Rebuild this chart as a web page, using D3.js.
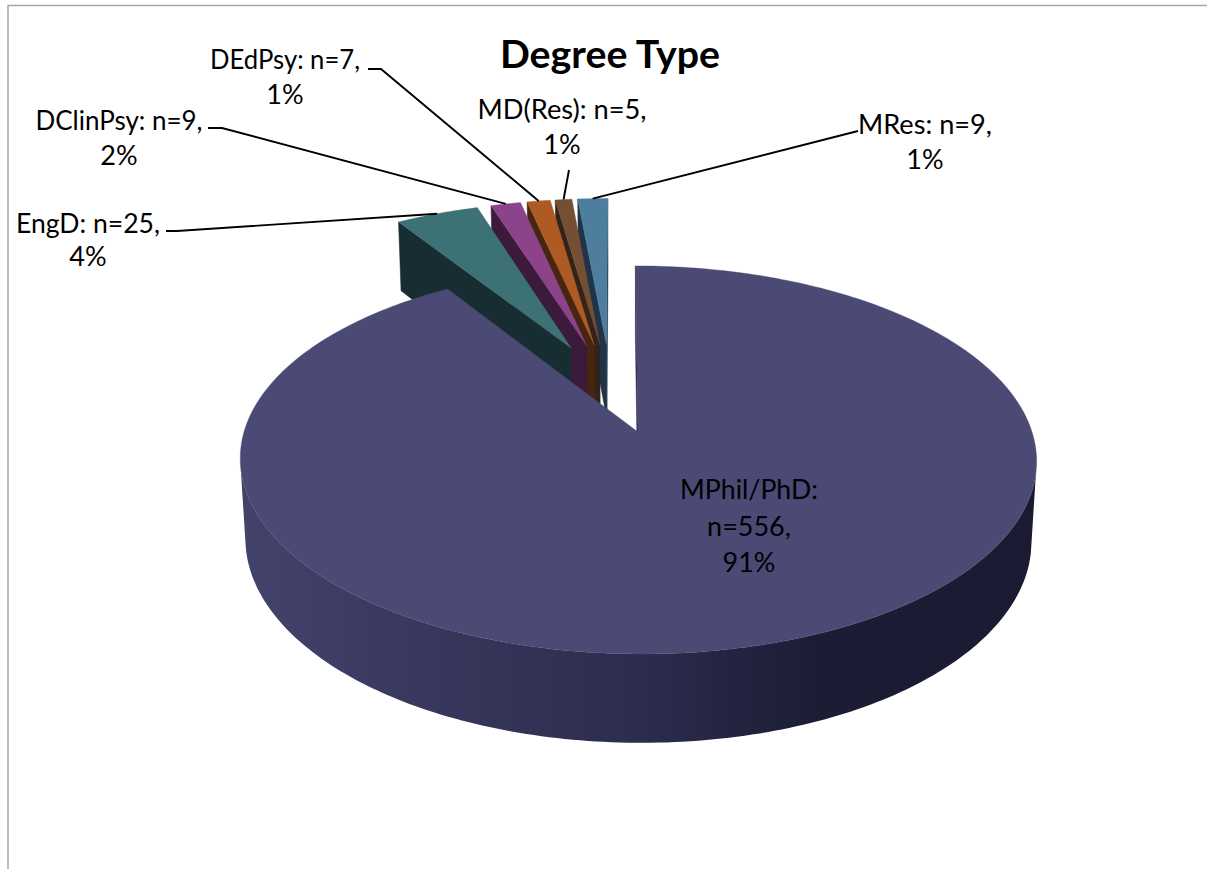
<!DOCTYPE html>
<html>
<head>
<meta charset="utf-8">
<script src="https://cdn.jsdelivr.net/npm/d3@7"></script>
<style>
  html, body { margin: 0; padding: 0; background: #fff; }
  svg { display: block; }
  text { font-family: Lato, "Open Sans", sans-serif; fill: #000; }
</style>
</head>
<body>
<svg id="chart" width="1207" height="869"></svg>
<script>
// Degree type counts, in clockwise order from twelve o'clock
const categories = ["MPhil/PhD", "EngD", "DClinPsy", "DEdPsy", "MD(Res)", "MRes"];
const counts = [556, 25, 9, 7, 5, 9];
const percentLabels = ["91%", "4%", "2%", "1%", "1%", "1%"];
const chartTitle = "Degree Type";

const topColors = ["#4a4a75", "#3c7175", "#8c4389", "#ae5a25", "#754f33", "#4e7e9e"];
const wallColors = ["#2b2b4c", "#182d31", "#3b1a3b", "#46260f", "#33231a", "#1f3448"];

// Perspective camera for the tilted disc: u runs right, v runs away, z runs down
const camera = { x0: 638, y0: 432, radius: 394, tilt: 190, depth: 80, k: 0.144, m: 0.0127, skew: 3 };
const explode = 0.252;

function project(u, v, z) {
  const s = 1 / (1 + camera.k * v + camera.m * z);
  return [
    camera.x0 + (camera.radius * u - camera.skew * v) * s,
    camera.y0 + (-camera.tilt * v + camera.depth * z) * s
  ];
}

const svg = d3.select("#chart");

// Side of the large slice is shaded from left to right
const rimStops = [[245, "#42426b"], [640, "#2c2c4e"], [810, "#1c1d35"], [1035, "#1a1b32"]];
const rimGradient = svg.append("defs").append("linearGradient")
  .attr("id", "rimShade")
  .attr("gradientUnits", "userSpaceOnUse")
  .attr("x1", rimStops[0][0]).attr("x2", rimStops[rimStops.length - 1][0])
  .attr("y1", 0).attr("y2", 0);
rimGradient.selectAll("stop").data(rimStops).join("stop")
  .attr("offset", d => (d[0] - rimStops[0][0]) / (rimStops[rimStops.length - 1][0] - rimStops[0][0]))
  .attr("stop-color", d => d[1]);

// Chart frame: only the top and left edges fall inside the page
svg.append("path")
  .attr("d", d3.line()([[8, 869], [8, 5.5], [1207, 5.5]]))
  .attr("fill", "none").attr("stroke", "#a6a6a6").attr("stroke-width", 1.5);

const arcs = d3.pie().sort(null).value(d => d)(counts);
const dir = a => [Math.sin(a), Math.cos(a)];
const midAngle = d => (d.startAngle + d.endAngle) / 2;

// The largest slice's apex is the origin, so the pie centre sits opposite its explosion
const mainDir = dir(midAngle(arcs[0]));
const centre = [-explode * mainDir[0], -explode * mainDir[1]];
const apexOf = d => {
  const p = dir(midAngle(d));
  return [centre[0] + explode * p[0], centre[1] + explode * p[1]];
};
const rimPoint = (d, a) => {
  const apex = apexOf(d), p = dir(a);
  return [apex[0] + p[0], apex[1] + p[1]];
};

const polygon = d3.line();

// Back-to-front: the small slices first, the large slice last
const order = d3.range(arcs.length).reverse();
const slices = svg.selectAll("g.slice").data(order).join("g").attr("class", "slice");

slices.each(function (i) {
  const g = d3.select(this), d = arcs[i];
  const step = Math.PI / 180;
  const n = Math.max(2, Math.ceil((d.endAngle - d.startAngle) / step));
  const angles = d3.range(n + 1).map(j => d.startAngle + (d.endAngle - d.startAngle) * j / n);
  const apex = apexOf(d);
  const outline = [apex, ...angles.map(a => rimPoint(d, a))];
  const top = p => project(p[0], p[1], 0);
  const bottom = p => project(p[0], p[1], 1);
  const facesViewer = (p, q) => d3.polygonArea([top(p), top(q), bottom(q), bottom(p)]) > -0.01;

  // Flat radial walls, kept only when they face the viewer
  [[apex, outline[1]], [outline[outline.length - 1], apex]].forEach(([p, q]) => {
    if (!facesViewer(p, q)) return;
    g.append("path")
      .attr("d", polygon([top(p), top(q), bottom(q), bottom(p)]) + "Z")
      .attr("fill", wallColors[i]).attr("stroke", wallColors[i]).attr("stroke-width", 0.5);
  });

  // Curved outer wall: the run of arc segments that face the viewer, as one shape
  const rim = outline.slice(1);
  const visible = rim.filter((p, j) => {
    const q = rim[j + 1] || p, r = rim[j - 1] || p;
    return facesViewer(p, q) && facesViewer(r, p) && (q !== p || r !== p);
  });
  if (visible.length > 1) {
    const fill = i === 0 ? "url(#rimShade)" : wallColors[i];
    g.append("path")
      .attr("d", polygon([...visible.map(top), ...visible.slice().reverse().map(bottom)]) + "Z")
      .attr("fill", fill);
  }

  g.append("path")
    .attr("d", polygon(outline.map(top)) + "Z")
    .attr("fill", topColors[i]).attr("stroke", topColors[i]).attr("stroke-width", 0.4);
});

// Title
svg.append("text").attr("x", 610).attr("y", 68)
  .attr("text-anchor", "middle")
  .attr("font-size", 38).attr("font-weight", 700)
  .attr("textLength", 220).attr("lengthAdjust", "spacingAndGlyphs")
  .text(chartTitle);

// Label placement per slice: text centre, first baseline, first-line width and leader start
const labelLayout = [
  { x: 749, y: 499, lines: ["MPhil/PhD:", "n=556,"], width: 138, lead: 36.5 },
  { x: 88, y: 233, lines: ["EngD: n=25,"], width: 144, lead: 33, leader: [[166, 231], [177, 231]] },
  { x: 119, y: 130, lines: ["DClinPsy: n=9,"], width: 167, lead: 35, leader: [[208, 128], [222, 128]] },
  { x: 285, y: 69, lines: ["DEdPsy: n=7,"], width: 150, lead: 35, leader: [[368, 69], [381, 69]] },
  { x: 562, y: 119, lines: ["MD(Res): n=5,"], width: 169, lead: 35, leader: [[569, 170]] },
  { x: 925, y: 134, lines: ["MRes: n=9,"], width: 134, lead: 35, leader: [[858, 131]] }
];

labelLayout.forEach((l, i) => {
  const t = svg.append("text")
    .attr("font-size", 27)
    .attr("text-anchor", "middle")
    .attr("transform", `translate(${l.x},${l.y})`);
  [...l.lines, percentLabels[i]].forEach((s, j) => {
    const span = t.append("tspan").attr("x", 0).attr("y", j * l.lead).text(s);
    if (j === 0) span.attr("textLength", l.width).attr("lengthAdjust", "spacingAndGlyphs");
  });

  if (l.leader) {
    const end = rimPoint(arcs[i], midAngle(arcs[i]));
    svg.append("path")
      .attr("d", d3.line()([...l.leader, project(end[0], end[1], 0)]))
      .attr("fill", "none").attr("stroke", "#000").attr("stroke-width", 1.9);
  }
});
</script>
</body>
</html>
